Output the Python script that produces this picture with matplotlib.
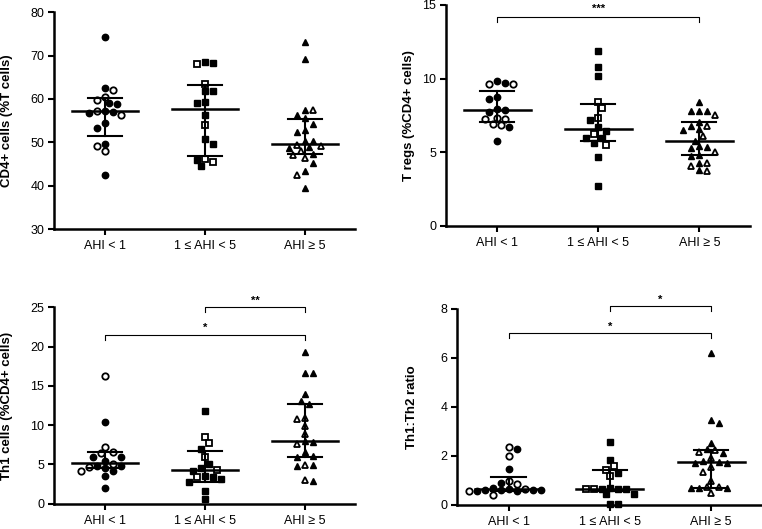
import matplotlib
import numpy as np

matplotlib.use('Agg')

import matplotlib.pyplot as plt

plt.rcParams['font.family'] = ['Liberation Sans', 'DejaVu Sans']

groups = ['AHI < 1', '1 \u2264 AHI < 5', 'AHI \u2265 5']
markers = ['o', 's', '^']

# CD4+ cells (%T cells)
cd4_filled = [[74.3, 62.5, 58.9, 59.1, 57.3, 56.8, 57.0, 53.2, 54.4, 49.7, 42.4],
              [68.5, 68.2, 61.8, 61.8, 59.1, 59.4, 56.4, 50.7, 49.6, 46.0, 44.6],
              [73.2, 69.2, 57.4, 56.3, 55.5, 54.2, 52.8, 52.4, 50.35, 50.35, 48.6, 48.9, 47.3, 45.3, 43.4, 39.5]]
cd4_open = [[62.0, 60.5, 59.7, 56.4, 57.2, 49.2, 48.0],
            [68.0, 63.5, 54.0, 46.1, 45.5],
            [57.4, 49.1, 48.0, 49.4, 47.05, 46.3, 42.4]]
cd4_med = [57.2, 57.6, 49.6]
cd4_q1 = [51.4, 46.8, 47.3]
cd4_q3 = [60.1, 63.1, 55.4]

# T regs (%CD4+ cells)
treg_filled = [[9.84, 9.73, 8.6, 8.78, 7.87, 7.94, 7.71, 6.74, 5.77],
               [11.88, 10.81, 10.18, 7.19, 6.74, 6.45, 5.95, 5.95, 5.61, 4.7, 2.73],
               [8.44, 7.8, 7.8, 7.8, 7.08, 6.8, 6.5, 6.55, 5.8, 5.3, 5.4, 5.38, 4.85, 4.75, 4.3, 3.8]]
treg_open = [[9.61, 9.61, 7.24, 7.35, 7.27, 6.85, 6.9],
             [8.39, 7.98, 7.31, 6.27, 5.52],
             [7.5, 6.8, 6.1, 5.0, 4.1, 4.3, 3.75]]
treg_med = [7.89, 6.6, 5.77]
treg_q1 = [7.08, 5.77, 4.82]
treg_q3 = [9.18, 8.26, 7.05]

# Th1 cells (%CD4+ cells)
th1_filled = [[10.4, 6.0, 6.0, 5.46, 4.75, 4.83, 4.5, 4.1, 3.57, 1.97],
              [11.85, 7.0, 5.04, 4.54, 4.2, 3.15, 3.36, 3.49, 2.8, 1.55, 0.55],
              [19.3, 16.6, 16.6, 13.9, 13.04, 12.75, 8.0, 7.9, 6.52, 6.0, 6.1, 4.92, 4.84, 2.82]]
th1_open = [[16.2, 7.27, 6.6, 6.5, 5.0, 4.1, 4.6],
            [8.53, 7.7, 5.88, 4.33, 3.36],
            [10.95, 10.8, 9.89, 8.92, 7.58, 4.96, 2.95]]
th1_med = [5.13, 4.29, 7.95]
th1_q1 = [4.5, 2.8, 6.0]
th1_q3 = [6.6, 6.72, 12.7]

# Th1:Th2 ratio
ratio_filled = [[2.26, 1.45, 0.9, 0.6, 0.58, 0.62, 0.6, 0.55, 0.58, 0.56, 0.7],
                [2.57, 1.83, 1.3, 0.62, 0.63, 0.7, 0.66, 0.45, 0.42, 0.02, 0.02],
                [6.18, 3.35, 3.48, 2.54, 2.27, 2.1, 1.71, 1.78, 1.71, 1.75, 0.7, 0.68, 0.67]]
ratio_open = [[2.37, 1.97, 0.96, 0.84, 0.55, 0.62, 0.39],
              [1.43, 1.56, 1.16, 0.62, 0.63],
              [2.16, 2.22, 1.89, 1.55, 1.35, 0.97, 0.74, 0.47, 0.72]]
ratio_med = [0.62, 0.65, 1.75]
ratio_q1 = [0.55, 0.55, 0.7]
ratio_q3 = [1.13, 1.4, 2.25]

# significance brackets: (from group, to group, height, label)
treg_brackets = [(1, 3, 14.2, '***')]
th1_brackets = [(2, 3, 25.0, '**'), (1, 3, 21.5, '*')]
ratio_brackets = [(2, 3, 8.1, '*'), (1, 3, 7.0, '*')]


def swarm_offsets(ax, x0, vals, diam=7.0, step=4.0):
    # simple beeswarm in pixel space so points do not pile up
    pts = ax.transData.transform(np.column_stack([np.full(len(vals), x0), vals]))
    ypx = pts[:, 1]
    order = np.argsort(-ypx, kind='stable')
    placed = []
    offs = np.zeros(len(vals))
    for i in order:
        k = 0
        found = None
        while found is None:
            if k == 0:
                cands = [0.0]
            else:
                right = sum(1 for p in placed if p[0] > 0)
                left = sum(1 for p in placed if p[0] < 0)
                cands = [k * step, -k * step] if right <= left else [-k * step, k * step]
            for c in cands:
                if all((c - px) ** 2 + (ypx[i] - py) ** 2 >= diam ** 2 for px, py in placed):
                    found = c
                    break
            k += 1
        offs[i] = found
        placed.append((found, ypx[i]))
    px_per_unit = ax.transData.transform((1, 0))[0] - ax.transData.transform((0, 0))[0]
    return offs / px_per_unit


def draw_panel(ax, filled, opened, med, q1, q3, ylim, yticks, ylabel, label_x, brackets):
    ax.set_xlim(0.49, 3.5)
    ax.set_ylim(*ylim)
    for i in range(3):
        x0 = i + 1
        vals = np.array(filled[i] + opened[i])
        is_open = np.array([False] * len(filled[i]) + [True] * len(opened[i]))
        offs = swarm_offsets(ax, x0, vals)
        ms = 5 if markers[i] == '^' else 4.6
        ax.plot(x0 + offs[~is_open], vals[~is_open], ls='none', marker=markers[i], ms=ms,
                mfc='black', mec='black', mew=1.0, zorder=2, clip_on=False)
        ax.plot(x0 + offs[is_open], vals[is_open], ls='none', marker=markers[i], ms=ms,
                mfc='white', mec='black', mew=1.3, zorder=2, clip_on=False)
        # median and interquartile range
        ax.plot([x0 - 0.33, x0 + 0.33], [med[i], med[i]], color='black', lw=1.8, zorder=3)
        ax.plot([x0 - 0.17, x0 + 0.17], [q1[i], q1[i]], color='black', lw=1.5, zorder=3)
        ax.plot([x0 - 0.17, x0 + 0.17], [q3[i], q3[i]], color='black', lw=1.5, zorder=3)
        ax.plot([x0, x0], [q1[i], q3[i]], color='black', lw=1.5, zorder=3)

    span = ylim[1] - ylim[0]
    for a, b, h, lab in brackets:
        ax.plot([a, a, b, b], [h - 0.025 * span, h, h, h - 0.025 * span], color='black',
                lw=0.8, clip_on=False)
        ax.text((a + b) / 2, h + 0.035 * span, lab, ha='center', va='center', fontsize=8,
                fontweight='bold')

    ax.set_yticks(yticks)
    ax.set_xticks([1, 2, 3])
    ax.set_xticklabels(groups)
    ax.tick_params(axis='both', direction='out', length=4, width=1.5, labelsize=9, pad=3)
    ax.tick_params(axis='x', pad=4)
    for side in ['top', 'right']:
        ax.spines[side].set_visible(False)
    for side in ['left', 'bottom']:
        ax.spines[side].set_linewidth(1.8)
    ax.set_ylabel(ylabel, fontsize=9.5, fontweight='bold')
    ax.yaxis.set_label_coords(label_x, 0.5)


fig = plt.figure(figsize=(7.62, 5.29), dpi=100)

ax1 = fig.add_axes([0.0709, 0.567, 0.395, 0.410])
draw_panel(ax1, cd4_filled, cd4_open, cd4_med, cd4_q1, cd4_q3, (30, 80), range(30, 81, 10),
           'CD4+ cells (%T cells)', -0.136, [])

ax2 = fig.add_axes([0.585, 0.5728, 0.399, 0.4178])
draw_panel(ax2, treg_filled, treg_open, treg_med, treg_q1, treg_q3, (0, 15), [0, 5, 10, 15],
           'T regs (%CD4+ cells)', -0.102, treg_brackets)

ax3 = fig.add_axes([0.0709, 0.048, 0.395, 0.371])
draw_panel(ax3, th1_filled, th1_open, th1_med, th1_q1, th1_q3, (0, 25), range(0, 26, 5),
           'Th1 cells (%CD4+ cells)', -0.136, th1_brackets)

ax4 = fig.add_axes([0.5997, 0.046, 0.4, 0.370])
draw_panel(ax4, ratio_filled, ratio_open, ratio_med, ratio_q1, ratio_q3, (0, 8), [0, 2, 4, 6, 8],
           'Th1:Th2 ratio', -0.128, ratio_brackets)

fig.savefig('out.png', dpi=100)
